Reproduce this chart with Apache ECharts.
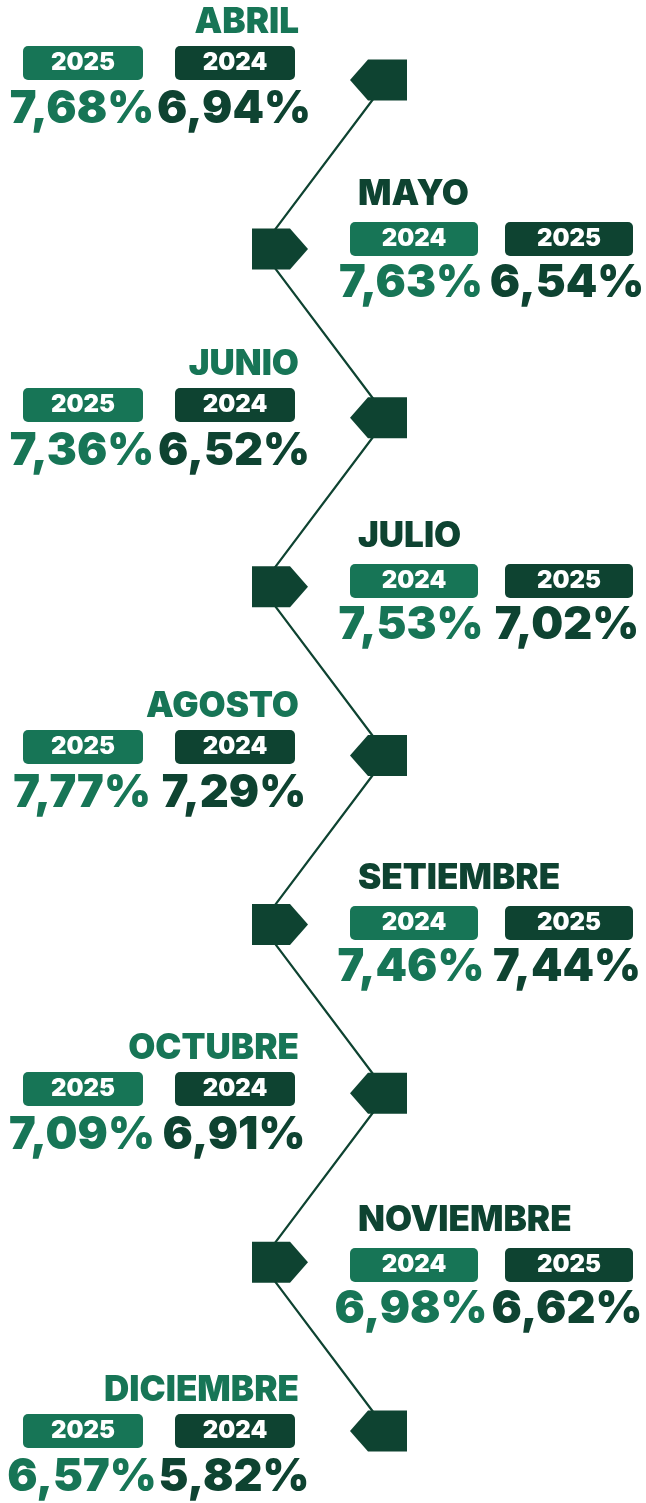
<!DOCTYPE html>
<html><head><meta charset="utf-8">
<script src="https://cdn.jsdelivr.net/npm/echarts@6/dist/echarts.min.js"></script>
<style>html,body{margin:0;padding:0;background:#fff}#c{width:646px;height:1503px}</style>
</head><body><div id="c"></div>
<script>
const months = ['ABRIL','MAYO','JUNIO','JULIO','AGOSTO','SETIEMBRE','OCTUBRE','NOVIEMBRE','DICIEMBRE'];
const textSide = ['L','R','L','R','L','R','L','R','L'];
const firstYears = ['2025','2024','2025','2024','2025','2024','2025','2024','2025'];
const firstValues = [7.68,7.63,7.36,7.53,7.77,7.46,7.09,6.98,6.57];
const secondYears = ['2024','2025','2024','2025','2024','2025','2024','2025','2024'];
const secondValues = [6.94,6.54,6.52,7.02,7.29,7.44,6.91,6.62,5.82];

const LIGHT = '#177556';
const DARK = '#0e4331';
const FONT = 'Inter, Roboto, sans-serif';
const fmt = v => v.toFixed(2).replace('.', ',') + '%';

const LEFT_MARK = 'path://M0,20.5L18,0L57,0L57,41L18,41Z';
const RIGHT_MARK = 'path://M0,0L38,0L56,20.5L38,41L0,41Z';

const chart = echarts.init(document.getElementById('c'), null, {renderer:'canvas'});

function txt(text, x, y, size, color, align) {
  return {type:'text', style:{text:text, x:x, y:y, fill:color,
    font:'900 ' + size + 'px ' + FONT, align:align, textAlign:align,
    verticalAlign:'middle', textVerticalAlign:'middle'}};
}
function badge(x, y, w, color) {
  return {type:'rect', shape:{x:x, y:y-17, width:w, height:34, r:5}, style:{fill:color}};
}

const option = {
  backgroundColor:'#ffffff',
  animation:false,
  grid:[
    {left:197, width:254, top:80, height:1351},
    {left:0, width:646, top:63, height:1368}
  ],
  xAxis:[
    {gridIndex:0, type:'category', data:['textRight','textLeft'], boundaryGap:true, show:false},
    {gridIndex:1, type:'value', min:0, max:646, show:false}
  ],
  yAxis:[
    {gridIndex:0, type:'category', data:months, inverse:true, boundaryGap:false, show:false},
    {gridIndex:1, type:'category', data:months, inverse:true, boundaryGap:false, show:false}
  ],
  series:[
    {
      type:'line', xAxisIndex:0, yAxisIndex:0, symbol:'none', z:1,
      lineStyle:{color:DARK, width:2.2},
      data: months.map((m,i) => [textSide[i]==='L' ? 'textLeft' : 'textRight', m])
    },
    {
      type:'scatter', xAxisIndex:0, yAxisIndex:0, z:2,
      itemStyle:{color:DARK, opacity:1},
      data: months.map((m,i) => textSide[i]==='L'
        ? {value:['textLeft', m], symbol:LEFT_MARK, symbolSize:[57,41], symbolOffset:[-9,0]}
        : {value:['textRight', m], symbol:RIGHT_MARK, symbolSize:[56,41], symbolOffset:[19.5,0]})
    },
    {
      type:'custom', xAxisIndex:1, yAxisIndex:1, z:3, clip:false,
      data: months.map((m,i) => [0, m]),
      renderItem: function(params, api) {
        const i = params.dataIndex;
        let y = api.coord([0, api.value(1)])[1];
        const ch = [];
        if (textSide[i] === 'L') {
          ch.push(txt(months[i], 299, y-41, 35, LIGHT, 'right'));
          ch.push(badge(23, y, 120, LIGHT));
          ch.push(badge(175, y, 120, DARK));
          ch.push(txt(firstYears[i], 83, y, 24, '#fff', 'center'));
          ch.push(txt(secondYears[i], 235, y, 24, '#fff', 'center'));
          ch.push(txt(fmt(firstValues[i]), 82, y+46.5, 45, LIGHT, 'center'));
          ch.push(txt(fmt(secondValues[i]), 234, y+46.5, 45, DARK, 'center'));
        } else {
          y += 5;
          ch.push(txt(months[i], 358, y-45, 35, DARK, 'left'));
          ch.push(badge(350, y, 128, LIGHT));
          ch.push(badge(505, y, 128, DARK));
          ch.push(txt(firstYears[i], 414, y, 24, '#fff', 'center'));
          ch.push(txt(secondYears[i], 569, y, 24, '#fff', 'center'));
          ch.push(txt(fmt(firstValues[i]), 411, y+44, 45, LIGHT, 'center'));
          ch.push(txt(fmt(secondValues[i]), 567, y+44, 45, DARK, 'center'));
        }
        return {type:'group', children:ch};
      }
    }
  ]
};
chart.setOption(option);
</script>
</body></html>
